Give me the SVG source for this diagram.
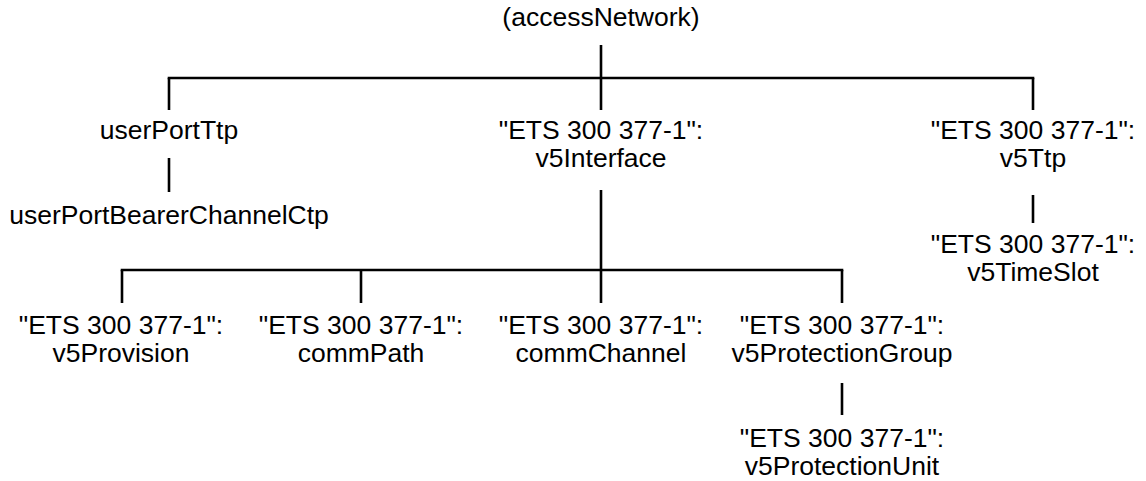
<svg xmlns="http://www.w3.org/2000/svg" width="1146" height="481" viewBox="0 0 1146 481">
<style>
text{font-family:"Liberation Sans",Arial,sans-serif;font-size:26.5px;fill:#000;text-anchor:middle}
.c line{stroke:#000;stroke-width:2.6;stroke-linecap:butt}
</style>
<rect width="1146" height="481" fill="#fff"/>
<g class="c" id="connectors">
<line x1="601" y1="45" x2="601" y2="110"/>
<line x1="167.7" y1="78" x2="1034.3" y2="78"/>
<line x1="169" y1="78" x2="169" y2="110"/>
<line x1="1033" y1="78" x2="1033" y2="110"/>
<line x1="169" y1="158" x2="169" y2="192"/>
<line x1="601" y1="190" x2="601" y2="303"/>
<line x1="120.7" y1="270" x2="843.3" y2="270"/>
<line x1="122" y1="270" x2="122" y2="303"/>
<line x1="361" y1="270" x2="361" y2="303"/>
<line x1="842" y1="270" x2="842" y2="303"/>
<line x1="1033" y1="195" x2="1033" y2="223"/>
<line x1="842" y1="383" x2="842" y2="415"/>
</g>
<g id="accessNetwork"><text x="601" y="26">(accessNetwork)</text></g>
<g id="userPortTtp"><text x="169" y="139">userPortTtp</text></g>
<g id="userPortBearerChannelCtp"><text x="169" y="224">userPortBearerChannelCtp</text></g>
<g id="v5Interface"><text x="601" y="139">"ETS 300 377-1":</text><text x="601" y="167">v5Interface</text></g>
<g id="v5Ttp"><text x="1033" y="139">"ETS 300 377-1":</text><text x="1033" y="167">v5Ttp</text></g>
<g id="v5TimeSlot"><text x="1033" y="253">"ETS 300 377-1":</text><text x="1033" y="281">v5TimeSlot</text></g>
<g id="v5Provision"><text x="121" y="334">"ETS 300 377-1":</text><text x="121" y="362">v5Provision</text></g>
<g id="commPath"><text x="361" y="334">"ETS 300 377-1":</text><text x="361" y="362">commPath</text></g>
<g id="commChannel"><text x="601" y="334">"ETS 300 377-1":</text><text x="601" y="362">commChannel</text></g>
<g id="v5ProtectionGroup"><text x="842" y="334">"ETS 300 377-1":</text><text x="842" y="362">v5ProtectionGroup</text></g>
<g id="v5ProtectionUnit"><text x="842" y="447">"ETS 300 377-1":</text><text x="842" y="475">v5ProtectionUnit</text></g>
</svg>
